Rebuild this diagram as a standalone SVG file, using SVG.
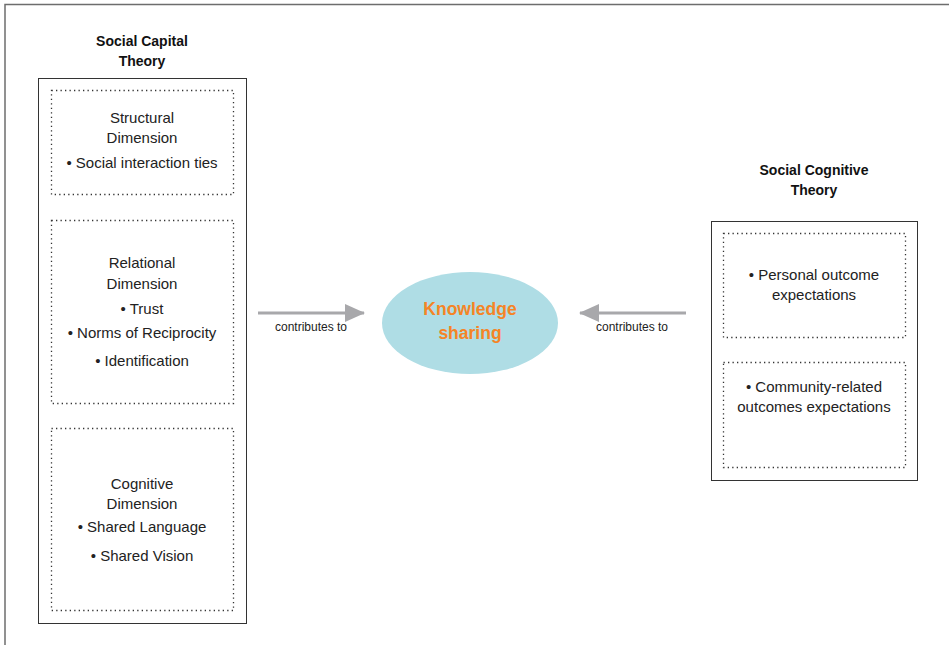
<svg xmlns="http://www.w3.org/2000/svg" width="949" height="645" viewBox="0 0 949 645">
<style>
.frame{fill:none;stroke:#6d6d6d;stroke-width:1.5}
.box{fill:#fff;stroke:#333;stroke-width:1}
.dot{fill:none;stroke:#333;stroke-width:1.3;stroke-dasharray:1.3 3.2}
.t{font-family:"Liberation Sans",Arial,sans-serif;font-size:15px;fill:#222;text-anchor:middle}
.h{font-family:"Liberation Sans",Arial,sans-serif;font-size:14px;font-weight:bold;fill:#111;text-anchor:middle}
.s{font-family:"Liberation Sans",Arial,sans-serif;font-size:12px;fill:#222;text-anchor:middle}
.k{font-family:"Liberation Sans",Arial,sans-serif;font-size:17.5px;font-weight:bold;fill:#f58426;text-anchor:middle}
.arr{stroke:#a8a8ab;stroke-width:3;fill:none}
</style>
<defs>
<marker id="ah" markerWidth="20" markerHeight="18" refX="19" refY="9" orient="auto" markerUnits="userSpaceOnUse">
<path d="M0,0 L20,9 L0,18 Z" fill="#a8a8ab"/>
</marker>
</defs>
<rect width="949" height="645" fill="#fff"/>
<path class="frame" d="M5,645 V4.5 H949"/>
<g id="social-capital-theory">
<text class="h" x="142" y="46">Social Capital</text>
<text class="h" x="142" y="66">Theory</text>
<rect class="box" x="38.5" y="78.5" width="208" height="545"/>
</g>
<g id="structural">
<rect class="dot" x="51.5" y="90.5" width="182" height="104"/>
<text class="t" x="142" y="123">Structural</text>
<text class="t" x="142" y="143">Dimension</text>
<text class="t" x="142" y="168">• Social interaction ties</text>
</g>
<g id="relational">
<rect class="dot" x="51.5" y="220.5" width="182" height="183"/>
<text class="t" x="142" y="268">Relational</text>
<text class="t" x="142" y="289">Dimension</text>
<text class="t" x="142" y="314">• Trust</text>
<text class="t" x="142" y="338">• Norms of Reciprocity</text>
<text class="t" x="142" y="366">• Identification</text>
</g>
<g id="cognitive">
<rect class="dot" x="51.5" y="428.5" width="182" height="182"/>
<text class="t" x="142" y="489">Cognitive</text>
<text class="t" x="142" y="509">Dimension</text>
<text class="t" x="142" y="532">• Shared Language</text>
<text class="t" x="142" y="561">• Shared Vision</text>
</g>
<g id="knowledge-sharing">
<ellipse cx="470" cy="323" rx="88" ry="51" fill="#afdde5"/>
<text class="k" x="470" y="315">Knowledge</text>
<text class="k" x="470" y="339">sharing</text>
</g>
<g id="social-cognitive-theory">
<text class="h" x="814" y="175">Social Cognitive</text>
<text class="h" x="814" y="195">Theory</text>
<rect class="box" x="711.5" y="221.5" width="206" height="259"/>
</g>
<g id="personal">
<rect class="dot" x="723.5" y="233.5" width="182" height="104"/>
<text class="t" x="814" y="280">• Personal outcome</text>
<text class="t" x="814" y="300">expectations</text>
</g>
<g id="community">
<rect class="dot" x="723.5" y="362.5" width="182" height="105"/>
<text class="t" x="814" y="392">• Community-related</text>
<text class="t" x="814" y="412">outcomes expectations</text>
</g>
<g id="connectors">
<line class="arr" x1="258" y1="313" x2="364" y2="313" marker-end="url(#ah)"/>
<text class="s" x="311" y="331">contributes to</text>
<line class="arr" x1="686" y1="313" x2="580" y2="313" marker-end="url(#ah)"/>
<text class="s" x="632" y="331">contributes to</text>
</g>
</svg>
